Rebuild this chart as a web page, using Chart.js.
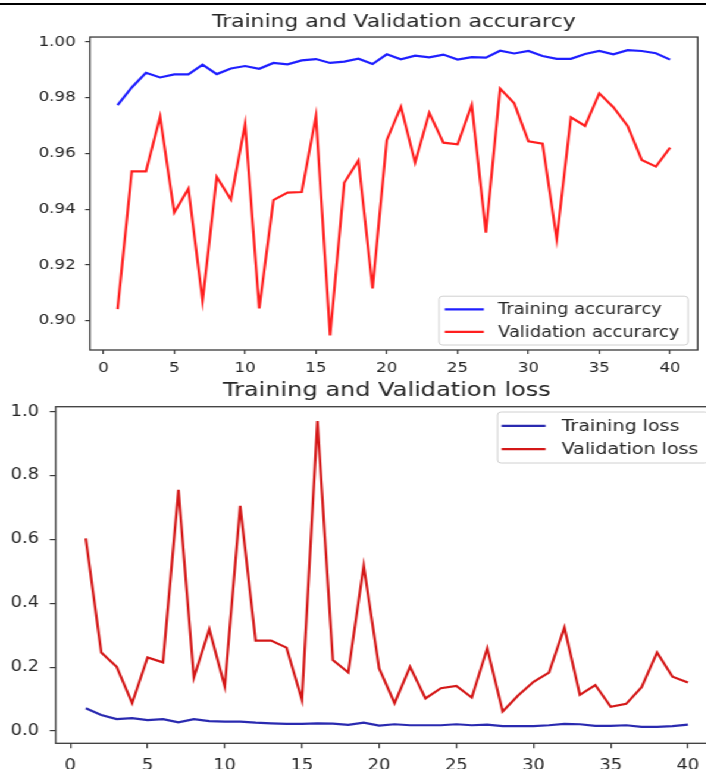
<!DOCTYPE html>
<html>
<head>
<meta charset="utf-8">
<script src="https://cdn.jsdelivr.net/npm/chart.js@4.4.0/dist/chart.umd.min.js"></script>
<style>
  html, body { margin: 0; padding: 0; background: #fff; overflow: hidden; width: 706px; height: 769px; }
  #rule { position: absolute; left: 0; top: 3px; width: 706px; height: 2px; background: #000; }
  /* the source picture is stretched sideways, so the whole stage is too */
  #stage { position: absolute; left: 0; top: 0; width: 594px; height: 769px; transform: scaleX(1.19); transform-origin: 0 0; }
  #accChart { position: absolute; left: 0; top: 5px; }
  #lossChart { position: absolute; left: 0; top: 375px; }
</style>
</head>
<body>
<div id="rule"></div>
<div id="stage">
  <canvas id="accChart" width="594" height="380"></canvas>
  <canvas id="lossChart" width="625" height="394"></canvas>
</div>

<script>
// epochs
const EPOCHS = [1, 2, 3, 4, 5, 6, 7, 8, 9, 10, 11, 12, 13, 14, 15, 16, 17, 18, 19, 20,
  21, 22, 23, 24, 25, 26, 27, 28, 29, 30, 31, 32, 33, 34, 35, 36, 37, 38, 39, 40];

const TRAIN_ACC = [0.9774, 0.9837, 0.9890, 0.9873, 0.9884, 0.9884, 0.9919, 0.9885, 0.9905, 0.9914,
  0.9904, 0.9925, 0.9920, 0.9934, 0.9939, 0.9925, 0.9930, 0.9940, 0.9921, 0.9956,
  0.9938, 0.9951, 0.9945, 0.9955, 0.9937, 0.9946, 0.9944, 0.9969, 0.9959, 0.9968,
  0.9950, 0.9940, 0.9940, 0.9957, 0.9968, 0.9956, 0.9971, 0.9968, 0.9960, 0.9937];

const VAL_ACC = [0.9042, 0.9536, 0.9536, 0.9732, 0.9388, 0.9474, 0.9071, 0.9516, 0.9435, 0.9706,
  0.9044, 0.9433, 0.9460, 0.9462, 0.9734, 0.8947, 0.9495, 0.9575, 0.9116, 0.9648,
  0.9768, 0.9568, 0.9746, 0.9639, 0.9633, 0.9774, 0.9316, 0.9833, 0.9780, 0.9644,
  0.9635, 0.9292, 0.9730, 0.9699, 0.9816, 0.9766, 0.9699, 0.9577, 0.9553, 0.9621];

const TRAIN_LOSS = [0.071, 0.050, 0.037, 0.040, 0.034, 0.037, 0.027, 0.037, 0.031, 0.029,
  0.029, 0.026, 0.024, 0.022, 0.022, 0.024, 0.023, 0.019, 0.026, 0.017,
  0.021, 0.018, 0.018, 0.018, 0.021, 0.018, 0.020, 0.015, 0.015, 0.015,
  0.018, 0.022, 0.021, 0.016, 0.016, 0.018, 0.013, 0.013, 0.015, 0.020];

const VAL_LOSS = [0.603, 0.246, 0.201, 0.087, 0.230, 0.215, 0.755, 0.167, 0.319, 0.139,
  0.705, 0.283, 0.283, 0.261, 0.097, 0.971, 0.222, 0.183, 0.518, 0.196,
  0.087, 0.201, 0.102, 0.134, 0.141, 0.105, 0.259, 0.061, 0.111, 0.154,
  0.183, 0.324, 0.113, 0.144, 0.076, 0.085, 0.137, 0.246, 0.170, 0.152];

const X_TICKS = [0, 5, 10, 15, 20, 25, 30, 35, 40];
const ACC_TICKS = [0.90, 0.92, 0.94, 0.96, 0.98, 1.00];
const LOSS_TICKS = [0.0, 0.2, 0.4, 0.6, 0.8, 1.0];

const FONT = '"DejaVu Sans", sans-serif';
const INK = '#262626';
const SPINE = '#3a3a3a';

const toPoints = values => values.map((v, i) => ({ x: EPOCHS[i], y: v }));

// box round the axes, like matplotlib spines
const frame = {
  id: 'frame',
  afterDatasetsDraw(chart) {
    const { ctx, chartArea: a } = chart;
    ctx.save();
    ctx.strokeStyle = SPINE;
    ctx.lineWidth = 1.3;
    ctx.strokeRect(a.left, a.top, a.right - a.left, a.bottom - a.top);
    ctx.restore();
  }
};

// legend drawn inside the plot area
const innerLegend = {
  id: 'innerLegend',
  afterDraw(chart, args, o) {
    const { ctx, chartArea: a } = chart;
    const sets = chart.data.datasets;
    ctx.save();
    ctx.font = `${o.size}px ${FONT}`;
    const textW = Math.max(...sets.map(d => ctx.measureText(d.label).width));
    const w = o.padL + o.sample + o.gap + textW + o.padR;
    const h = o.rowH * sets.length + o.padV * 2;
    const x = a.right - o.marginX - w;
    const y = o.loc === 'upper' ? a.top + o.marginY : a.bottom - o.marginY - h;

    ctx.beginPath();
    ctx.roundRect(x, y, w, h, 3);
    ctx.fillStyle = 'rgba(255,255,255,0.8)';
    ctx.fill();
    ctx.strokeStyle = '#d0d0d0';
    ctx.lineWidth = 1;
    ctx.stroke();

    sets.forEach((d, i) => {
      const cy = y + o.padV + o.rowH * (i + 0.5);
      ctx.strokeStyle = d.borderColor;
      ctx.lineWidth = d.borderWidth;
      ctx.beginPath();
      ctx.moveTo(x + o.padL, cy);
      ctx.lineTo(x + o.padL + o.sample, cy);
      ctx.stroke();
      ctx.fillStyle = INK;
      ctx.textBaseline = 'middle';
      ctx.fillText(d.label, x + o.padL + o.sample + o.gap, cy + 1);
    });
    ctx.restore();
  }
};

function makeChart(id, cfg) {
  return new Chart(document.getElementById(id), {
    type: 'line',
    data: {
      datasets: cfg.series.map(s => ({
        label: s.label,
        data: toPoints(s.values),
        borderColor: s.color,
        borderWidth: 2.2,
        pointRadius: 0,
        tension: 0,
        fill: false
      }))
    },
    options: {
      responsive: false,
      animation: false,
      events: [],
      layout: { padding: { left: 0, right: cfg.padRight, top: 0, bottom: 0 } },
      scales: {
        x: {
          type: 'linear',
          min: -0.95,
          max: 41.95,
          afterFit: s => { s.height = cfg.xAxisH; },
          afterBuildTicks: s => { s.ticks = X_TICKS.map(v => ({ value: v })); },
          ticks: {
            font: { family: FONT, size: cfg.tickSize },
            color: INK,
            padding: cfg.xPad,
            maxRotation: 0,
            callback: v => String(v)
          },
          grid: { drawOnChartArea: false, drawTicks: true, tickLength: cfg.tickLen, color: SPINE, lineWidth: 1.2 },
          border: { display: false }
        },
        y: {
          min: cfg.yMin,
          max: cfg.yMax,
          afterFit: s => { s.width = cfg.yAxisW; },
          afterBuildTicks: s => { s.ticks = cfg.yTicks.map(v => ({ value: v })); },
          ticks: {
            font: { family: FONT, size: cfg.tickSize },
            color: INK,
            padding: cfg.yPad,
            callback: v => v.toFixed(cfg.decimals)
          },
          grid: { drawOnChartArea: false, drawTicks: true, tickLength: cfg.tickLen, color: SPINE, lineWidth: 1.2 },
          border: { display: false }
        }
      },
      plugins: {
        legend: { display: false },
        tooltip: { enabled: false },
        title: {
          display: true,
          text: cfg.title,
          fullSize: false,
          color: INK,
          font: { family: FONT, size: cfg.titleSize, weight: 'normal', lineHeight: 1.1 },
          padding: cfg.titlePad
        },
        innerLegend: cfg.legend
      }
    },
    plugins: [frame, innerLegend]
  });
}

makeChart('accChart', {
  title: 'Training and Validation accurarcy',
  titleSize: 18.4,
  titlePad: { top: 6.8, bottom: 5 },
  tickSize: 14,
  tickLen: 4,
  xPad: 6,
  yPad: 8,
  series: [
    { label: 'Training accurarcy', values: TRAIN_ACC, color: '#1f1fff' },
    { label: 'Validation accurarcy', values: VAL_ACC, color: '#ff1f1f' }
  ],
  yMin: 0.8895,
  yMax: 1.0018,
  yTicks: ACC_TICKS,
  decimals: 2,
  yAxisW: 75.6,
  xAxisH: 35,
  padRight: 7.7,
  legend: { loc: 'lower', size: 15, rowH: 22.4, padV: 2, padL: 4.8, sample: 32.8, gap: 12, padR: 7.3, marginX: 8.1, marginY: 5 }
});

makeChart('lossChart', {
  title: 'Training and Validation loss',
  titleSize: 20.2,
  titlePad: { top: 4.6, bottom: 4.9 },
  tickSize: 15,
  tickLen: 5,
  xPad: 9,
  yPad: 9,
  series: [
    { label: 'Training loss', values: TRAIN_LOSS, color: '#2a2ab0' },
    { label: 'Validation loss', values: VAL_LOSS, color: '#d41818' }
  ],
  yMin: -0.0386,
  yMax: 1.0157,
  yTicks: LOSS_TICKS,
  decimals: 1,
  yAxisW: 46.8,
  xAxisH: 25.7,
  padRight: 21.6,
  legend: { loc: 'upper', size: 16, rowH: 23.3, padV: 2.2, padL: 3.4, sample: 37, gap: 13.4, padR: 8.4, marginX: 8.1, marginY: 5.3 }
});
</script>
</body>
</html>
